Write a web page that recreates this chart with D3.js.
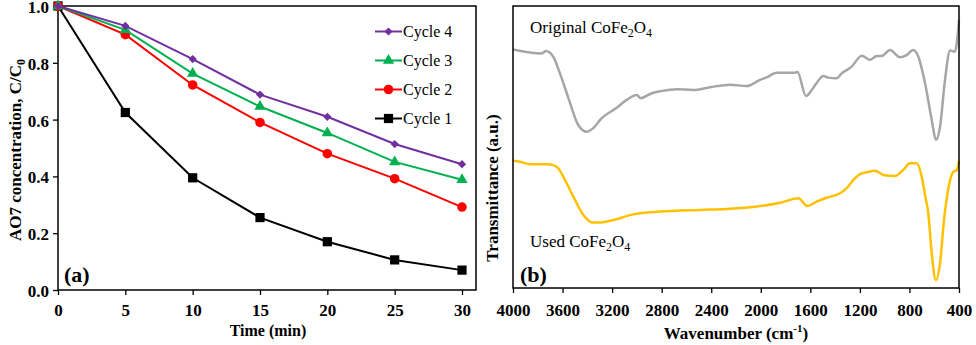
<!DOCTYPE html>
<html lang="en">
  <head>
    <meta charset="utf-8">
    <title>AO7 degradation cycles and FTIR of CoFe2O4</title>
    <script src="https://d3js.org/d3.v7.js"></script>
    <style>
      body { margin: 0; background: #fff; }
      text { font-family: "Liberation Serif", "Times New Roman", serif; fill: #000; }
      .tick text { font-size: 17px; font-weight: bold; }
    </style>
  </head>
  <body>
    <script type="text/javascript">

      // ---- (a) AO7 concentration vs time ----
      var times = [0, 5, 10, 15, 20, 25, 30];
      var cycle1 = [1.0, 0.625, 0.395, 0.255, 0.17, 0.106, 0.07];
      var cycle2 = [1.0, 0.899, 0.722, 0.59, 0.48, 0.392, 0.292];
      var cycle3 = [1.0, 0.916, 0.762, 0.646, 0.553, 0.451, 0.388];
      var cycle4 = [1.0, 0.93, 0.813, 0.688, 0.61, 0.514, 0.443];
      var cycleNames = ["Cycle 4", "Cycle 3", "Cycle 2", "Cycle 1"];
      var yTicksA = [0, 0.2, 0.4, 0.6, 0.8, 1.0];

      // ---- (b) FTIR spectra: [wavenumber, transmittance (a.u.)] ----
      var originalSpectrum = [
        [4000, 84.6], [3768, 83.2], [3736, 84.0], [3675, 82.0], [3621, 76.1],
        [3556, 67.8], [3473, 57.8], [3405, 55.4], [3354, 56.6], [3284, 60.2],
        [3163, 63.9], [3082, 66.7], [3001, 68.4], [2969, 67.3], [2894, 68.8],
        [2746, 70.2], [2679, 70.5], [2545, 70.2], [2410, 71.2], [2248, 72.1],
        [2114, 71.6], [2006, 73.8], [1952, 74.7], [1871, 76.3], [1724, 76.3],
        [1705, 76.7], [1635, 68.1], [1589, 70.2], [1548, 72.8], [1495, 75.2],
        [1455, 74.6], [1387, 74.4], [1347, 76.1], [1266, 78.5], [1185, 82.4],
        [1118, 80.9], [1064, 82.3], [1024, 82.3], [957, 84.4], [876, 81.8],
        [822, 82.6], [769, 84.4], [728, 82.0], [674, 72.6], [620, 59.6],
        [586, 52.5], [553, 57.2], [513, 73.8], [472, 84.2], [432, 83.8],
        [418, 86.8], [400, 95.0]
      ];
      var usedSpectrum = [
        [4000, 45.1], [3943, 44.8], [3863, 43.9], [3715, 43.9], [3647, 43.0],
        [3580, 38.3], [3513, 32.4], [3432, 25.9], [3354, 23.2], [3311, 23.2],
        [3190, 24.1], [3031, 26.1], [2813, 27.1], [2490, 27.7], [2275, 28.0],
        [2087, 28.6], [1845, 30.2], [1697, 31.8], [1624, 29.1], [1549, 30.6],
        [1468, 32.0], [1360, 33.6], [1306, 35.4], [1253, 38.3], [1199, 40.4],
        [1132, 41.2], [1078, 41.6], [1011, 40.1], [917, 39.7], [852, 41.8],
        [795, 44.2], [741, 44.2], [701, 39.5], [674, 33.0], [648, 26.5],
        [620, 12.3], [586, 2.8], [553, 8.8], [521, 24.1], [478, 37.1],
        [446, 41.2], [418, 41.8], [400, 45.1]
      ];
      var wnTicks = [4000, 3600, 3200, 2800, 2400, 2000, 1600, 1200, 800, 400];

      var w = 976, h = 345;
      var svg = d3.select("body").append("svg")
        .attr("width", w)
        .attr("height", h);

      // ================= panel (a) =================
      var a = {left: 58, top: 6, right: 476, bottom: 290};
      var xA = d3.scaleLinear().domain([0, 30]).range([a.left, 462]);
      var yA = d3.scaleLinear().domain([0, 1]).range([a.bottom, a.top]);

      svg.append("rect")
        .attr("x", a.left).attr("y", a.top)
        .attr("width", a.right - a.left).attr("height", a.bottom - a.top)
        .attr("fill", "none").attr("stroke", "#000").attr("stroke-width", 1.5);

      svg.append("g")
        .attr("transform", `translate(0,${a.bottom})`)
        .call(d3.axisBottom(xA).tickValues(times).tickSize(5).tickPadding(9))
        .call(g => g.select(".domain").remove())
        .call(g => g.selectAll("line").attr("stroke", "#000").attr("stroke-width", 1.3));

      svg.append("g")
        .attr("transform", `translate(${a.left},1)`)
        .call(d3.axisLeft(yA).tickValues(yTicksA).tickFormat(d3.format(".1f")).tickSize(5).tickPadding(4))
        .call(g => g.select(".domain").remove())
        .call(g => g.selectAll("line").attr("transform", "translate(0,-1)")
                    .attr("stroke", "#000").attr("stroke-width", 1.3));

      var series = [
        {name: "Cycle 1", values: cycle1, color: "#000000", symbol: d3.symbolSquare, size: 85, rot: 0},
        {name: "Cycle 2", values: cycle2, color: "#ff0000", symbol: d3.symbolCircle, size: 72, rot: 0},
        {name: "Cycle 3", values: cycle3, color: "#00b050", symbol: d3.symbolTriangle, size: 55, rot: 0},
        {name: "Cycle 4", values: cycle4, color: "#7030a0", symbol: d3.symbolSquare, size: 34, rot: 45}
      ];

      var line = d3.line()
        .x((d, i) => xA(times[i]))
        .y(d => yA(d));

      series.forEach(function(s) {
        svg.append("path")
          .attr("d", line(s.values))
          .attr("fill", "none")
          .attr("stroke", s.color)
          .attr("stroke-width", 2);
        svg.selectAll(null)
          .data(s.values).enter().append("path")
          .attr("d", d3.symbol().type(s.symbol).size(s.size))
          .attr("transform", (d, i) => `translate(${xA(times[i])},${yA(d)}) rotate(${s.rot})`)
          .attr("fill", s.color);
      });

      // legend
      var legendRow = d3.scaleBand().domain(cycleNames).range([17, 133]);
      var legend = svg.append("g");
      cycleNames.forEach(function(name) {
        var s = series.find(d => d.name === name);
        var cy = legendRow(name) + legendRow.bandwidth() / 2;
        legend.append("line")
          .attr("x1", 375).attr("x2", 402)
          .attr("y1", cy).attr("y2", cy)
          .attr("stroke", s.color).attr("stroke-width", 2);
        legend.append("path")
          .attr("d", d3.symbol().type(s.symbol).size(s.size))
          .attr("transform", `translate(388.5,${cy}) rotate(${s.rot})`)
          .attr("fill", s.color);
        legend.append("text")
          .attr("x", 403).attr("y", cy + 5.5)
          .style("font-size", "16px")
          .text(name);
      });

      svg.append("text")
        .attr("x", 64).attr("y", 282)
        .style("font-size", "22px").style("font-weight", "bold")
        .text("(a)");

      svg.append("text")
        .attr("x", 268).attr("y", 336)
        .attr("text-anchor", "middle")
        .style("font-size", "16px").style("font-weight", "bold")
        .text("Time (min)");

      var ylabA = svg.append("text")
        .attr("transform", "translate(21,150) rotate(-90)")
        .attr("text-anchor", "middle")
        .style("font-size", "17px").style("font-weight", "bold");
      ylabA.append("tspan").text("AO7 concentration, C/C");
      ylabA.append("tspan").attr("dy", 4).style("font-size", "12px").text("0");

      // ================= panel (b) =================
      var b = {left: 513, top: 6, right: 959, bottom: 288};
      var xB = d3.scaleLinear().domain([4000, 400]).range([b.left, b.right]);
      var yB = d3.scaleLinear().domain([0, 100]).range([b.bottom, b.top]);

      svg.append("g")
        .attr("transform", `translate(0,${b.bottom})`)
        .call(d3.axisBottom(xB).tickValues(wnTicks).tickFormat(d3.format("d")).tickSize(5).tickPadding(11))
        .call(g => g.select(".domain").remove())
        .call(g => g.selectAll("line").attr("stroke", "#000").attr("stroke-width", 1.3));

      var spec = d3.line()
        .x(d => xB(d[0]))
        .y(d => yB(d[1]))
        .curve(d3.curveMonotoneX);

      svg.append("path")
        .attr("d", spec(originalSpectrum))
        .attr("fill", "none").attr("stroke", "#a6a6a6").attr("stroke-width", 2.5);
      svg.append("path")
        .attr("d", spec(usedSpectrum))
        .attr("fill", "none").attr("stroke", "#ffc000").attr("stroke-width", 2.5);

      svg.append("rect")
        .attr("x", b.left).attr("y", b.top)
        .attr("width", b.right - b.left).attr("height", b.bottom - b.top)
        .attr("fill", "none").attr("stroke", "#000").attr("stroke-width", 1.5);

      function formula(label, x, y) {
        var t = svg.append("text").attr("x", x).attr("y", y).style("font-size", "17px");
        t.append("tspan").text(label + " CoFe");
        t.append("tspan").attr("dy", 4).style("font-size", "12px").text("2");
        t.append("tspan").attr("dy", -4).text("O");
        t.append("tspan").attr("dy", 4).style("font-size", "12px").text("4");
      }
      formula("Original", 530, 33);
      formula("Used", 530, 247);

      svg.append("text")
        .attr("x", 520).attr("y", 282)
        .style("font-size", "22px").style("font-weight", "bold")
        .text("(b)");

      var xlabB = svg.append("text")
        .attr("x", 736).attr("y", 339)
        .attr("text-anchor", "middle")
        .style("font-size", "17px").style("font-weight", "bold");
      xlabB.append("tspan").text("Wavenumber (cm");
      xlabB.append("tspan").attr("dy", -7).style("font-size", "11px").text("-1");
      xlabB.append("tspan").attr("dy", 7).text(")");

      svg.append("text")
        .attr("transform", "translate(498,188) rotate(-90)")
        .attr("text-anchor", "middle")
        .style("font-size", "17px").style("font-weight", "bold")
        .text("Transmittance (a.u.)");

    </script>
  </body>
</html>
